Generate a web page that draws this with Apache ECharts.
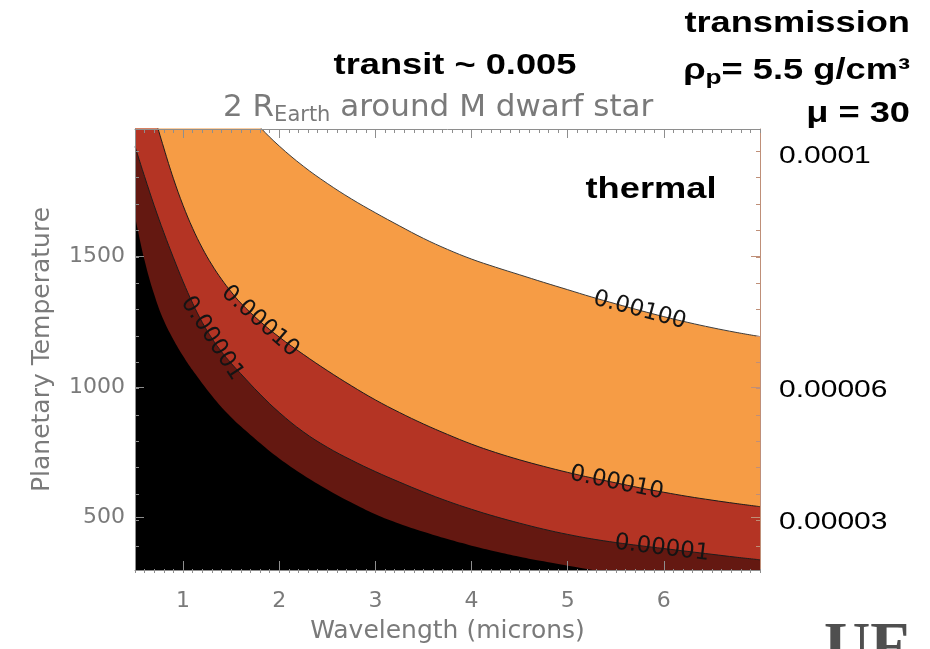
<!DOCTYPE html>
<html>
<head>
<meta charset="utf-8">
<title>Thermal and transmission contrast, 2 R_Earth around an M dwarf</title>
<script src="https://cdn.jsdelivr.net/npm/echarts@6.0.0/dist/echarts.min.js"></script>
<style>
  html, body { margin: 0; padding: 0; background: #ffffff; }
  #chart { width: 930px; height: 649px; }
</style>
</head>
<body>
<div id="chart"></div>
<script>
// Wavelength samples (microns) shared by every contour curve
const wavelength = [0.5, 0.6, 0.7, 0.8, 0.9, 1.0, 1.1, 1.2, 1.3, 1.4, 1.5, 1.6, 1.8,
                    2.0, 2.25, 2.5, 2.75, 3.0, 3.25, 3.5, 3.75, 4.0, 4.25, 4.5, 4.75,
                    5.0, 5.25, 5.5, 5.75, 6.0, 6.25, 6.5, 6.75, 7.0];

// Planetary temperature (K) at which the planet/star contrast reaches each level
const tempContrast1e3 = [4400, 3900, 3500, 3200, 2950, 2750, 2590, 2460, 2350, 2250, 2160, 2075, 1992,
                         1920, 1843, 1777, 1718, 1665, 1615, 1567, 1525, 1488, 1457, 1428, 1399,
                         1371, 1343, 1317, 1292, 1268, 1246, 1226, 1208, 1192];
const tempContrast1e4 = [2400, 2200, 2040, 1912, 1795, 1693, 1605, 1530, 1466, 1411, 1363, 1320, 1250,
                         1190, 1124, 1062, 1004, 950, 902, 858, 818, 781, 749, 721, 696,
                         673, 652, 633, 614, 597, 581, 567, 554, 542];
const tempContrast1e5 = [1918, 1803, 1692, 1589, 1493, 1402, 1319, 1246, 1185, 1134, 1090, 1050, 972,
                         902, 828, 769, 720, 676, 636, 598, 563, 532, 504, 479, 456,
                         436, 419, 405, 393, 382, 371, 360, 349, 339];
const tempContrast1e6 = [1653, 1483, 1353, 1253, 1180, 1118, 1063, 1013, 966, 922, 884, 849, 785,
                         726, 663, 608, 558, 513, 477, 446, 418, 393, 371, 351, 333,
                         316, 301, 287, 274, 262, 251, 240, 230, 221];

// Contour level names (the lowest boundary carries no label)
const contourLevels = ['0.00100', '0.00010', '0.00001', ''];

// Inline contour labels: which curve, and at what wavelength
const contourLabelCurve = [0, 1, 1, 2, 2];
const contourLabelWavelength = [5.75, 1.80, 5.51, 1.30, 5.98];

// Axis ticks
const xTickValues = [1, 2, 3, 4, 5, 6];
const yTickValues = [500, 1000, 1500];
const yMinorTickValues = [400, 500, 600, 700, 800, 900, 1000, 1100, 1200, 1300, 1400, 1500, 1600, 1700, 1800, 1900];

// Transmission signal scale on the right, placed at matching temperatures
const transmissionLabels = ['0.0001', '0.00006', '0.00003'];
const transmissionTemps = [1879, 987, 482];

const curves = [tempContrast1e3, tempContrast1e4, tempContrast1e5, tempContrast1e6];
const bandFill = ['#f69c45', '#b43424', '#641811', '#000000'];
const bandLine = ['#3c3c3c', '#1c1c1c', '#1c1c1c', '#000000'];

const AXIS_GRAY = '#8e8e8e';
const RIGHT_AXIS = '#bf8f78';
const TEXT_GRAY = '#7a7a7a';
const IDL_FONT = 'DejaVu Sans';
const X_MIN = 0.5, X_MAX = 7, Y_MIN = 300, Y_MAX = 1985;
const PLOT = { left: 135, top: 129, width: 625, height: 444 };

// a bare axis that only draws inward ticks (and optionally its line)
function tickAxis(kind, gridIndex, position, tickLen, color, ticks, withLine) {
  const ax = {
    type: 'value',
    gridIndex: gridIndex,
    position: position,
    min: kind === 'x' ? X_MIN : Y_MIN,
    max: kind === 'x' ? X_MAX : Y_MAX,
    z: 20,
    axisLine: { show: !!withLine, onZero: false, lineStyle: { color: color, width: 1 } },
    axisLabel: { show: false },
    splitLine: { show: false },
    axisTick: { show: true, inside: true, length: tickLen, lineStyle: { color: color, width: 1 } }
  };
  if (ticks === 'tenths') ax.interval = 0.1;
  else ax.axisTick.customValues = ticks;
  return ax;
}

const chart = echarts.init(document.getElementById('chart'), null, { renderer: 'canvas' });

const bottomAxis = tickAxis('x', 0, 'bottom', 9, AXIS_GRAY, xTickValues, true);
bottomAxis.axisLabel = {
  show: true, customValues: xTickValues, color: TEXT_GRAY, fontSize: 22,
  fontFamily: IDL_FONT, margin: 20, formatter: function (v) { return String(v); }
};
bottomAxis.name = 'Wavelength (microns)';
bottomAxis.nameLocation = 'middle';
bottomAxis.nameGap = 49;
bottomAxis.nameTextStyle = { color: TEXT_GRAY, fontSize: 25, fontFamily: IDL_FONT };

const leftAxis = tickAxis('y', 0, 'left', 9, AXIS_GRAY, yTickValues, true);
leftAxis.axisLabel = {
  show: true, customValues: yTickValues, color: TEXT_GRAY, fontSize: 22,
  fontFamily: IDL_FONT, margin: 10, formatter: function (v) { return String(v); }
};
leftAxis.name = 'Planetary Temperature';
leftAxis.nameLocation = 'middle';
leftAxis.nameRotate = 90;
leftAxis.nameGap = 80;
leftAxis.nameTextStyle = { color: TEXT_GRAY, fontSize: 25, fontFamily: IDL_FONT };

const option = {
  animation: false,
  backgroundColor: '#ffffff',
  title: {
    left: 218,
    top: 85,
    text: '{n|2 R}{s|Earth}{n| around M dwarf star}',
    textStyle: {
      fontWeight: 'normal',
      rich: {
        n: { fontFamily: IDL_FONT, fontWeight: 'normal', fontSize: 31, color: TEXT_GRAY },
        s: { fontFamily: IDL_FONT, fontWeight: 'normal', fontSize: 21, color: TEXT_GRAY, padding: [15, 0, 0, 0] }
      }
    }
  },
  // grid 0 carries the contours and major ticks; grid 1 overlays the minor ticks
  grid: [
    Object.assign({ containLabel: false }, PLOT),
    Object.assign({ containLabel: false }, PLOT)
  ],
  xAxis: [
    bottomAxis,
    tickAxis('x', 0, 'top', 9, AXIS_GRAY, xTickValues, true),
    tickAxis('x', 1, 'bottom', 4, AXIS_GRAY, 'tenths', false),
    tickAxis('x', 1, 'top', 4, AXIS_GRAY, 'tenths', false)
  ],
  yAxis: [
    leftAxis,
    tickAxis('y', 0, 'right', 9, RIGHT_AXIS, yTickValues, true),
    tickAxis('y', 1, 'left', 4, AXIS_GRAY, yMinorTickValues, false),
    tickAxis('y', 1, 'right', 4, RIGHT_AXIS, yMinorTickValues, false)
  ],
  series: curves.map(function (temps, k) {
    return {
      name: contourLevels[k] || 'floor',
      type: 'line',
      xAxisIndex: 0,
      yAxisIndex: 0,
      data: wavelength.map(function (w, i) { return [w, temps[i]]; }),
      symbol: 'none',
      smooth: 0.4,
      clip: true,
      silent: true,
      z: 2 + k,
      lineStyle: { color: bandLine[k], width: k === 3 ? 0 : 1 },
      areaStyle: { color: bandFill[k], opacity: 1, origin: 'start' }
    };
  })
};

chart.setOption(option);

// temperature on a curve at a given wavelength (linear between samples)
function curveTemp(temps, w) {
  for (let i = 0; i < wavelength.length - 1; i++) {
    if (w >= wavelength[i] && w <= wavelength[i + 1]) {
      const f = (w - wavelength[i]) / (wavelength[i + 1] - wavelength[i]);
      return temps[i] + f * (temps[i + 1] - temps[i]);
    }
  }
  return temps[temps.length - 1];
}

const graphics = [];

// contour level labels, laid along their curves
contourLabelCurve.forEach(function (ci, j) {
  const w = contourLabelWavelength[j];
  const temps = curves[ci];
  const p = chart.convertToPixel({ xAxisIndex: 0, yAxisIndex: 0 }, [w, curveTemp(temps, w)]);
  const a = chart.convertToPixel({ xAxisIndex: 0, yAxisIndex: 0 }, [w - 0.08, curveTemp(temps, w - 0.08)]);
  const b = chart.convertToPixel({ xAxisIndex: 0, yAxisIndex: 0 }, [w + 0.08, curveTemp(temps, w + 0.08)]);
  const ang = Math.atan2(b[1] - a[1], b[0] - a[0]);
  graphics.push({
    type: 'text', x: p[0], y: p[1], rotation: -ang, z: 100,
    style: {
      text: contourLevels[ci], fill: '#141414',
      font: '23px "DejaVu Sans"',
      align: 'center', verticalAlign: 'middle', textAlign: 'center', textVerticalAlign: 'middle'
    }
  });
});

// transmission scale values beside the right axis
transmissionLabels.forEach(function (txt, j) {
  const y = chart.convertToPixel({ yAxisIndex: 0 }, transmissionTemps[j]);
  graphics.push({
    type: 'text', x: 779, y: y, scaleX: 1.25, z: 100,
    style: {
      text: txt, fill: '#000000', font: '24px "Liberation Sans", Arial, sans-serif',
      align: 'left', verticalAlign: 'middle', textAlign: 'left', textVerticalAlign: 'middle'
    }
  });
});

// bold slide annotations
const BOLD = 'bold 29px "Liberation Sans", Arial, sans-serif';
function boldText(text, x, y, align, rich) {
  const style = {
    text: text, fill: '#000000', font: BOLD,
    align: align, verticalAlign: 'middle', textAlign: align, textVerticalAlign: 'middle'
  };
  if (rich) style.rich = rich;
  return { type: 'text', x: x, y: y, scaleX: 1.25, z: 100, style: style };
}
const boldRich = {
  m: { fontSize: 29, fontWeight: 'bold', fontFamily: 'Liberation Sans', fill: '#000' },
  s: { fontSize: 21, fontWeight: 'bold', fontFamily: 'Liberation Sans', fill: '#000', padding: [14, 0, 0, 0] }
};
graphics.push(boldText('transit ~ 0.005', 455, 66, 'center'));
graphics.push(boldText('transmission', 910, 24, 'right'));
graphics.push(boldText('{m|ρ}{s|p}{m|= 5.5 g/cm³}', 910, 71, 'right', boldRich));
graphics.push(boldText('μ = 30', 910, 114, 'right'));
graphics.push(boldText('thermal', 651, 190, 'center'));

// university wordmark in the corner
graphics.push({
  type: 'text', x: 824, y: 617, z: 100,
  style: {
    text: 'UF', fill: '#4f4f4f', font: 'bold 64px "Liberation Serif", serif',
    align: 'left', verticalAlign: 'top', textAlign: 'left', textVerticalAlign: 'top'
  }
});

chart.setOption({ graphic: { elements: graphics } });
</script>
</body>
</html>
